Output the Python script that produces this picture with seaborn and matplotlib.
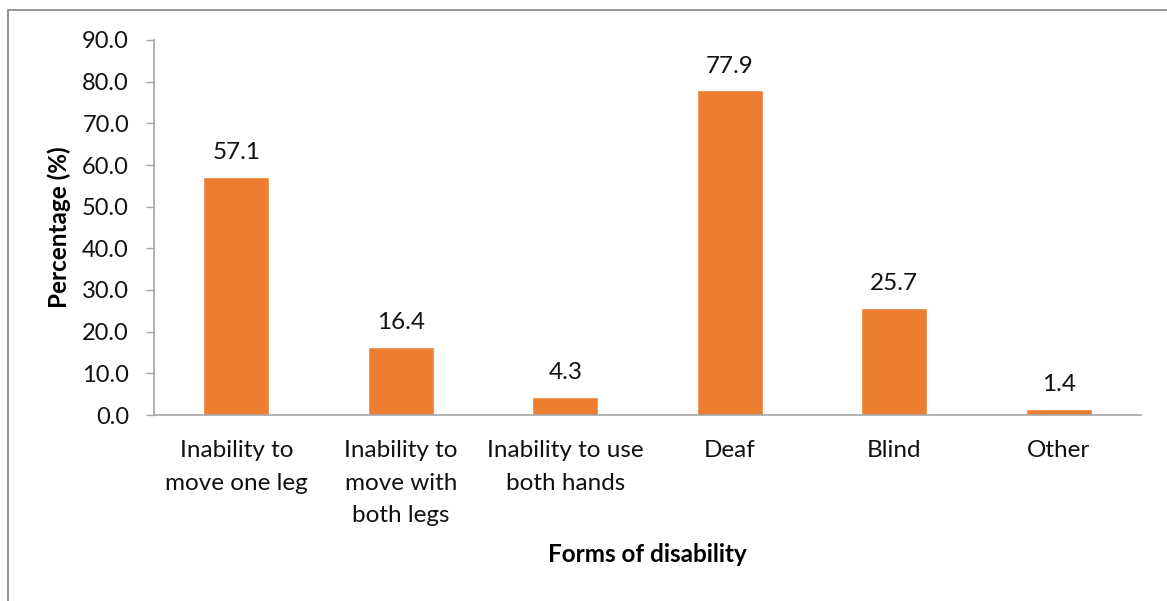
import matplotlib
matplotlib.use("Agg")
import matplotlib.pyplot as plt
import matplotlib.patches as mpatches
import seaborn as sns
import pandas as pd

categories = [
    "Inability to\nmove one leg",
    "Inability to\nmove with\nboth legs",
    "Inability to use\nboth hands",
    "Deaf",
    "Blind",
    "Other",
]
percentages = [57.1, 16.4, 4.3, 77.9, 25.7, 1.4]
y_ticks = [0, 10, 20, 30, 40, 50, 60, 70, 80, 90]

sns.set_theme(style="white")
plt.rcParams["font.family"] = ["Lato", "DejaVu Sans"]

df = pd.DataFrame({"form": categories, "pct": percentages})

W, H = 1167, 601
fig = plt.figure(figsize=(W / 100, H / 100), dpi=100)
ax = fig.add_axes([154 / W, 1 - 415 / H, (1141 - 154) / W, (415 - 40) / H])

sns.barplot(data=df, x="form", y="pct", color="#ED7D31", width=0.40,
            saturation=1, ax=ax)

ax.set_ylim(0, 90)
ax.set_xlim(-0.5, len(categories) - 0.5)
ax.set_yticks(y_ticks)
ax.set_yticklabels([f"{v:.1f}" for v in y_ticks], fontsize=17, color="#111111")
ax.tick_params(axis="y", which="major", direction="out", length=6, width=1,
               color="#A6A6A6", left=True, pad=12)
ax.tick_params(axis="x", length=0, pad=18, labelsize=17.5, labelcolor="#111111")
for lbl in ax.get_xticklabels():
    lbl.set_linespacing(1.68)
    lbl.set_verticalalignment("top")

for side in ["top", "right"]:
    ax.spines[side].set_visible(False)
for side in ["left", "bottom"]:
    ax.spines[side].set_color("#A6A6A6")
    ax.spines[side].set_linewidth(1.2)

for i, v in enumerate(percentages):
    ax.annotate(f"{v:.1f}", (i, v), xytext=(0, 10), textcoords="offset points",
                ha="center", va="bottom", fontsize=17.5, color="#111111")

ax.set_xlabel("Forms of disability", fontsize=17.5, fontweight="bold",
              color="#000000")
ax.set_ylabel("Percentage (%)", fontsize=17.5, fontweight="bold",
              color="#000000")
ax.xaxis.set_label_coords((647 - 154) / (1141 - 154), 1 - (555 - 40) / (415 - 40))
ax.xaxis.label.set_verticalalignment("center")
ax.yaxis.set_label_coords((59 - 154) / (1141 - 154), 0.5)
ax.yaxis.label.set_verticalalignment("center")

# outer chart frame
frame = mpatches.Rectangle((8 / W, -0.05), 1.2, 1 - 10 / H + 0.05,
                           transform=fig.transFigure, fill=False,
                           edgecolor="#8c8c8c", linewidth=1.3, clip_on=False)
fig.add_artist(frame)

fig.savefig("out.png", dpi=100, facecolor="white")
